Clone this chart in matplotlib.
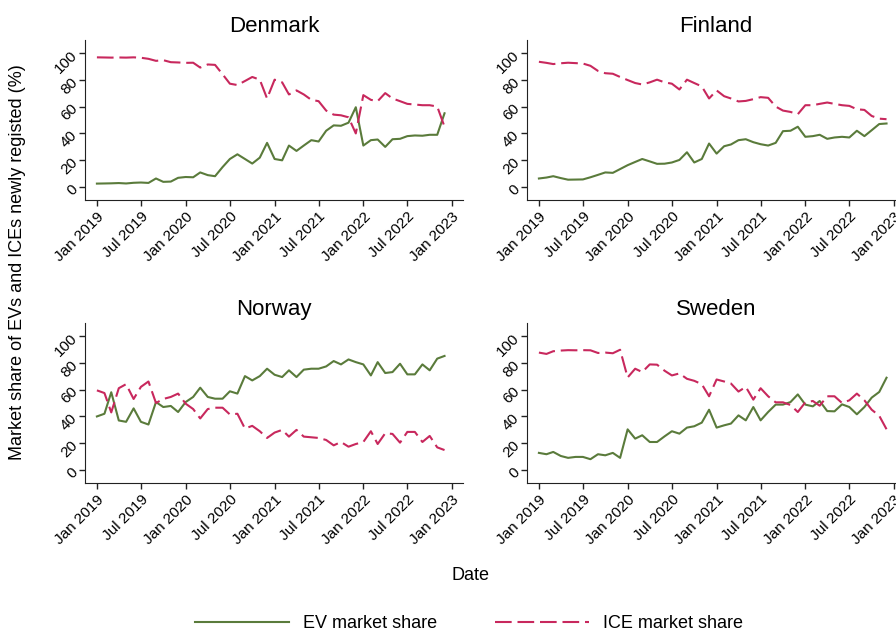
import numpy as np
import pandas as pd
import matplotlib
matplotlib.use("Agg")
import matplotlib.pyplot as plt

plt.rcParams['font.family'] = ['Liberation Sans', 'DejaVu Sans']

# monthly shares (%) of new registrations, Jan 2019 - Dec 2022
months = pd.date_range("2019-01-01", "2022-12-01", freq="MS")

dk_ev = [2.7, 2.8, 2.9, 3.1, 2.8, 3.3, 3.5, 3.2, 6.5, 4.0, 4.2, 7.0,
         7.6, 7.4, 11.0, 9.0, 8.2, 15.0, 21.0, 24.5, 21.0, 17.6, 22.0, 33.0,
         21.0, 20.0, 31.0, 27.0, 31.0, 35.0, 34.0, 42.0, 46.0, 45.7, 48.0, 59.5,
         31.0, 35.0, 35.5, 30.0, 35.7, 36.0, 38.0, 38.5, 38.3, 39.0, 39.0, 55.0]
dk_ice = [96.6, 96.5, 96.4, 96.5, 96.4, 96.6, 96.3, 95.5, 94.0, 94.5, 93.0, 92.8,
          92.5, 92.6, 89.0, 91.3, 91.0, 84.0, 77.0, 76.0, 79.0, 82.0, 80.0, 66.0,
          80.0, 78.0, 69.0, 72.0, 69.0, 65.0, 64.0, 57.0, 54.0, 53.5, 52.0, 40.0,
          68.5, 65.0, 64.0, 70.0, 66.0, 64.0, 62.0, 61.5, 61.0, 61.0, 60.0, 45.0]

fi_ev = [6.5, 7.2, 8.2, 6.8, 5.6, 5.7, 5.8, 7.4, 9.2, 11.0, 10.7, 13.5,
         16.4, 18.8, 21.0, 19.2, 17.4, 17.5, 18.4, 20.3, 26.0, 18.4, 21.0, 32.5,
         25.0, 30.5, 31.8, 35.0, 35.7, 33.5, 32.0, 31.0, 33.0, 41.7, 42.0, 45.0,
         37.5, 38.0, 39.0, 36.0, 37.0, 37.5, 37.0, 42.0, 38.0, 42.4, 47.0, 47.4]
fi_ice = [93.3, 92.5, 91.6, 92.2, 92.6, 92.3, 92.0, 90.3, 86.5, 84.8, 84.4, 82.0,
          79.7, 77.5, 76.4, 78.0, 80.0, 78.0, 77.0, 72.7, 80.0, 77.5, 75.0, 66.0,
          72.0, 67.7, 66.0, 63.8, 64.2, 65.5, 67.0, 66.5, 60.0, 57.0, 56.0, 54.3,
          61.0, 61.0, 62.0, 63.0, 62.0, 61.0, 60.5, 58.0, 57.5, 53.0, 51.0, 50.6]

no_ev = [40.0, 42.0, 58.0, 37.0, 36.0, 46.0, 36.0, 34.0, 50.7, 47.0, 47.8, 43.3,
         50.7, 54.5, 61.4, 54.5, 53.2, 53.2, 58.7, 57.0, 70.0, 66.8, 70.0, 75.5,
         71.0, 69.3, 74.3, 69.3, 74.8, 75.5, 75.5, 77.2, 81.2, 78.7, 82.4, 80.4,
         78.7, 70.5, 80.4, 72.3, 73.0, 79.2, 71.3, 71.3, 78.7, 74.3, 83.0, 85.0]
no_ice = [59.4, 57.4, 43.0, 61.0, 64.0, 53.0, 62.0, 66.0, 50.0, 53.0, 54.5, 57.0,
          49.5, 45.5, 38.5, 45.5, 46.5, 46.5, 41.5, 42.0, 31.0, 33.0, 29.0, 24.0,
          28.0, 30.0, 25.0, 30.0, 25.0, 24.5, 24.0, 22.5, 18.5, 21.0, 17.5, 19.5,
          21.0, 29.0, 19.5, 27.5, 27.0, 20.5, 28.5, 28.5, 21.0, 25.5, 17.0, 15.0]

se_ev = [12.9, 11.9, 13.6, 10.6, 9.2, 9.9, 9.9, 8.2, 11.9, 11.1, 12.9, 9.2,
         30.4, 23.5, 26.0, 21.0, 21.0, 25.2, 29.0, 27.2, 31.7, 32.7, 35.4, 45.0,
         31.7, 33.4, 34.7, 40.8, 37.1, 47.0, 37.1, 43.3, 48.8, 48.8, 50.7, 56.4,
         48.8, 47.5, 51.5, 44.0, 43.8, 49.0, 47.0, 41.6, 47.0, 54.0, 58.2, 68.8]
se_ice = [87.5, 86.5, 88.5, 89.0, 89.3, 89.2, 89.3, 89.2, 87.2, 87.5, 87.0, 89.6,
          69.0, 75.5, 73.0, 78.7, 78.5, 74.0, 70.5, 72.0, 68.0, 66.5, 64.0, 55.0,
          67.5, 66.0, 64.5, 58.5, 62.0, 52.5, 61.0, 55.0, 50.5, 50.5, 48.5, 43.3,
          50.5, 51.5, 48.0, 55.0, 55.0, 50.0, 52.0, 57.0, 52.0, 45.0, 40.5, 30.5]

countries = ["Denmark", "Finland", "Norway", "Sweden"]
ev_series = [dk_ev, fi_ev, no_ev, se_ev]
ice_series = [dk_ice, fi_ice, no_ice, se_ice]

tick_dates = pd.date_range("2019-01-01", "2023-01-01", freq="6MS")
tick_labels = [d.strftime("%b %Y") for d in tick_dates]

ev_col = "#5a7b3b"
ice_col = "#c8285d"

W, H = 896, 635
fig = plt.figure(figsize=(W / 100, H / 100), dpi=100)

# panel boxes in pixels: left, top, right, bottom
boxes = [(85, 40, 463, 200), (527, 40, 905, 200),
         (85, 323, 463, 483), (527, 323, 905, 483)]

for k, (l, t, r, b) in enumerate(boxes):
    ax = fig.add_axes([l / W, 1 - b / H, (r - l) / W, (b - t) / H])
    ax.plot(months, ev_series[k], color=ev_col, lw=1.5, label="EV market share")
    ax.plot(months, ice_series[k], color=ice_col, lw=1.5,
            linestyle=(0, (8.0, 2.8)), label="ICE market share")
    ax.set_xlim(pd.Timestamp("2018-11-13"), pd.Timestamp("2023-02-15"))
    ax.set_ylim(-9.5, 109.5)
    ax.set_yticks(range(0, 101, 20))
    ax.set_xticks(tick_dates)
    ax.set_xticklabels(tick_labels, rotation=45, ha="right", va="top",
                       rotation_mode="anchor", fontsize=11)
    for lab in ax.get_yticklabels():
        lab.set_rotation(45)
        lab.set_ha("right")
        lab.set_va("center")
        lab.set_rotation_mode("anchor")
        lab.set_fontsize(11)
    ax.tick_params(length=4, width=1, color="#222222", pad=3)
    ax.spines[["top", "right"]].set_visible(False)
    ax.spines[["left", "bottom"]].set_color("#222222")
    ax.set_title(countries[k], fontsize=16, pad=6)

fig.text(18 / W, 1 - 262 / H, "Market share of EVs and ICEs newly registed (%)",
         rotation=90, ha="center", va="center", fontsize=13)
fig.text(470 / W, 1 - 575 / H, "Date", ha="center", va="center", fontsize=13)

handles, labels = fig.axes[0].get_legend_handles_labels()
fig.legend(handles, labels, loc="center", bbox_to_anchor=(469 / W, 1 - 624 / H),
           ncol=2, frameon=False, fontsize=13, handlelength=5.2,
           columnspacing=3.2, handletextpad=0.8)

fig.savefig("out.png", dpi=100, facecolor="white")
